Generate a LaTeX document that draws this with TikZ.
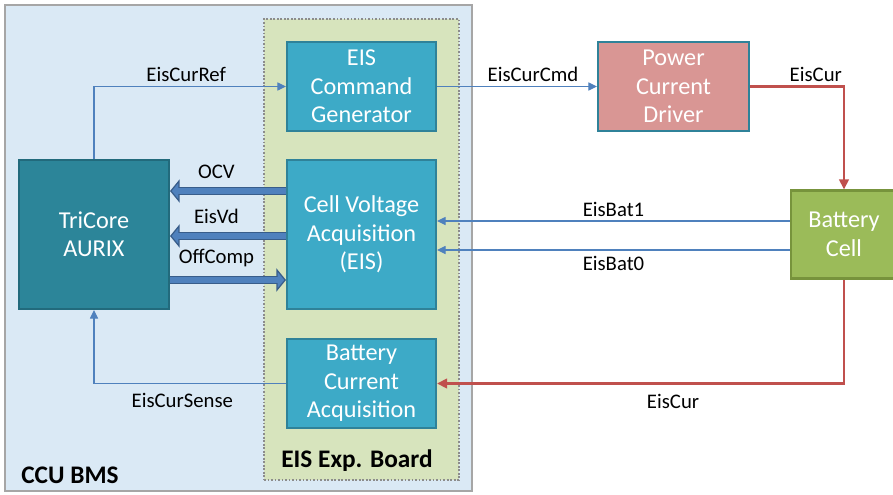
\documentclass[tikz,border=0pt]{standalone}
\usepackage{fontspec}
\setmainfont{Carlito}
\usetikzlibrary{arrows.meta, positioning}

\definecolor{ccufill}{HTML}{DAE9F5}
\definecolor{cculine}{HTML}{A6A6A6}
\definecolor{boardfill}{HTML}{D7E4BD}
\definecolor{boardline}{HTML}{8C8C8C}
\definecolor{aquafill}{HTML}{3DAAC7}
\definecolor{aqualine}{HTML}{2F8299}
\definecolor{corefill}{HTML}{2C8599}
\definecolor{coreline}{HTML}{226A7C}
\definecolor{powerfill}{HTML}{D99694}
\definecolor{cellfill}{HTML}{9BBB59}
\definecolor{cellline}{HTML}{77933C}
\definecolor{sigblue}{HTML}{4F81BD}
\definecolor{busdark}{HTML}{385D8A}
\definecolor{curred}{HTML}{C0504D}

\begin{document}
\begin{tikzpicture}[x=0.02cm, y=-0.02cm,
            block/.style={draw=aqualine, line width=1.2pt, fill=aquafill, text=white, align=center,
                font=\fontsize{13.8}{16.2}\selectfont, minimum width=2.98cm, minimum height=1.78cm, inner sep=2pt},
            sig/.style={draw=sigblue, line width=0.6pt, -{Triangle[length=1.7mm, width=1.6mm]}},
            cur/.style={draw=curred, line width=1.4pt, -{Triangle[length=2mm, width=1.9mm]}},
            bus/.style={draw=busdark, line width=1.7mm,
                -{Triangle[length=1.9mm, width=4.6mm, fill=sigblue, line width=0.7pt]},
                postaction={draw=sigblue, line width=1.1mm, -, shorten >=1.5mm}},
            lbl/.style={font=\fontsize{11.8}{14}\selectfont, text=black},
            title/.style={font=\bfseries\fontsize{14.4}{17}\selectfont}]

    \useasboundingbox (0,0) rectangle (893,494);

    % Frames
    \node[draw=cculine, line width=1.5pt, fill=ccufill, minimum width=9.34cm, minimum height=9.72cm]
        (ccu) at (238.5,248) {};
    \node[draw=boardline, line width=1.2pt, dash pattern=on 1pt off 1pt, fill=boardfill,
        minimum width=3.9cm, minimum height=9.22cm] (board) at (361.5,249.5) {};
    \node[title] (ccuname) at (70,475) {CCU BMS};
    \node[title] (boardname) at (357,461) {EIS Exp. Board};

    % Blocks
    \node[block] (cmd) at (361.5,86.5) {EIS\\Command\\Generator};
    \node[block, minimum height=2.98cm] (cva) at (361.5,234.5) {Cell Voltage\\Acquisition\\(EIS)};
    \node[block] (bca) at (361.5,383.5) {Battery\\Current\\Acquisition};
    \node[block, fill=corefill, draw=coreline, minimum width=3cm, minimum height=2.98cm]
        (tri) at (94,234.5) {TriCore\\AURIX};
    \node[block, fill=powerfill, minimum width=3.02cm] (pwr) at (673.5,86.5) {Power\\Current\\Driver};
    \node[block, fill=cellfill, draw=cellline, minimum width=2.12cm, minimum height=1.76cm]
        (bat) at (844,234.5) {Battery\\Cell};

    % Signals
    \draw[sig] (tri.north) |- (cmd.west) node[lbl, pos=0.74, above=-1pt] {EisCurRef};
    \draw[sig] (cmd.east) -- (pwr.west) node[lbl, pos=0.6, above=-1pt] {EisCurCmd};
    \draw[sig] ([yshift=2.7mm]bat.west) -- ([yshift=2.7mm]cva.east) node[lbl, midway, above=-1pt] {EisBat1};
    \draw[sig] ([yshift=-3.1mm]bat.west) -- ([yshift=-3.1mm]cva.east) node[lbl, midway, below] {EisBat0};
    \draw[sig] (bca.west) -| (tri.south) node[lbl, pos=0.27, below=2pt] {EisCurSense};

    % Current path
    \draw[cur] (pwr.east) -| (bat.north) node[lbl, pos=0.35, above=-1pt] {EisCur};
    \draw[cur] (bat.south) |- (bca.east) node[lbl, pos=0.71, below=2pt] {EisCur};

    % Buses
    \foreach \dy/\name in {8.7mm/OCV, -0.3mm/EisVd} {
        \draw[bus] ([yshift=\dy]cva.west) -- ([yshift=\dy]tri.east) node[lbl, pos=0.6, above=1.5pt] {\name};
    }
    \draw[bus] ([yshift=-9.1mm]tri.east) -- ([yshift=-9.1mm]cva.west) node[lbl, pos=0.4, above=1.5pt] {OffComp};
\end{tikzpicture}
\end{document}
